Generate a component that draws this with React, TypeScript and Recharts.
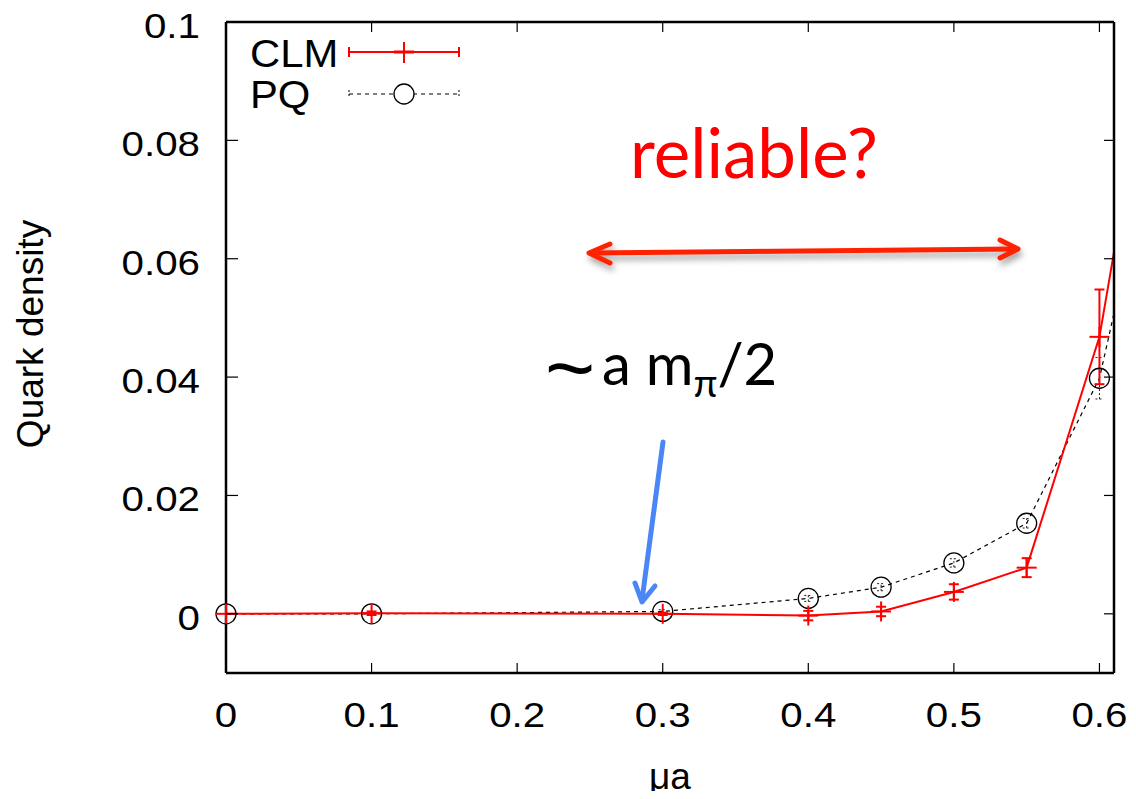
import React from 'react';
import { ComposedChart, Line, XAxis, YAxis, ErrorBar, Legend } from 'recharts';

// ---- data ----
const muA = [0, 0.1, 0.3, 0.4, 0.45, 0.5, 0.55, 0.6];
const clmDensity = [0, 0.0001, 0, -0.0003, 0.0004, 0.0037, 0.0078, 0.0468];
const clmError = [0, 0.0003, 0.0002, 0.0008, 0.0008, 0.0013, 0.0016, 0.008];
const pqDensity = [0, 0, 0.0004, 0.0026, 0.0045, 0.0086, 0.0153, 0.0398];
const pqError = [0, 0, 0.0003, 0.0005, 0.0006, 0.0007, 0.0008, 0.0035];
// the next point lies beyond the right edge of the frame (lines run off the plot)
const muANext = 0.63;
const clmNext = 0.0897;
const pqNext = 0.0728;

const xTicks = [0, 0.1, 0.2, 0.3, 0.4, 0.5, 0.6];
const xTickLabels = ['0', '0.1', '0.2', '0.3', '0.4', '0.5', '0.6'];
const yTicks = [0, 0.02, 0.04, 0.06, 0.08, 0.1];
const yTickLabels = ['0', '0.02', '0.04', '0.06', '0.08', '0.1'];
const xDomain = [0, 0.61];
const yDomain = [-0.01, 0.1];

const seriesNames = ['CLM', 'PQ'];

const pathData = [
  ...muA.map((x, i) => ({ x, clm: clmDensity[i], pq: pqDensity[i] })),
  { x: muANext, clm: clmNext, pq: pqNext },
];
const markData = muA.map((x, i) => ({
  x,
  clm: clmDensity[i],
  clmErr: clmError[i],
  pq: pqDensity[i],
  pqErr: pqError[i],
}));

const SANS = '"Liberation Sans", Arial, Helvetica, sans-serif';
const CAL = 'Lato, "Open Sans", sans-serif';
const RED = '#ff0000';
const STRETCH = 1.12;

const W = 1120;
const H = 791;

const BottomTick = (p: any) => (
  <g>
    <line x1={p.x} x2={p.x} y1={p.y} y2={p.y - 10} stroke="#000" strokeWidth={1.2} />
    <text
      transform={`translate(${p.x},${p.y + 54}) scale(${STRETCH},1)`}
      textAnchor="middle"
      fontSize={36}
      fontFamily={SANS}
      fill="#000"
    >
      {xTickLabels[p.index]}
    </text>
  </g>
);
const TopTick = (p: any) => (
  <line x1={p.x} x2={p.x} y1={p.y} y2={p.y + 10} stroke="#000" strokeWidth={1.2} />
);
const LeftTick = (p: any) => (
  <g>
    <line x1={p.x} x2={p.x + 12} y1={p.y} y2={p.y} stroke="#000" strokeWidth={1.2} />
    <text
      transform={`translate(${p.x - 26},${p.y + 16}) scale(${STRETCH},1)`}
      textAnchor="end"
      fontSize={36}
      fontFamily={SANS}
      fill="#000"
    >
      {yTickLabels[p.index]}
    </text>
  </g>
);
const RightTick = (p: any) => (
  <line x1={p.x} x2={p.x - 10} y1={p.y} y2={p.y} stroke="#000" strokeWidth={1.2} />
);

const PlusDot = (p: any) => (
  <g key={`plus-${p.index}`}>
    <line x1={p.cx - 10} x2={p.cx + 10} y1={p.cy} y2={p.cy} stroke={RED} strokeWidth={2} />
    <line x1={p.cx} x2={p.cx} y1={p.cy - 10} y2={p.cy + 10} stroke={RED} strokeWidth={2} />
  </g>
);
const CircleDot = (p: any) => (
  <circle key={`circ-${p.index}`} cx={p.cx} cy={p.cy} r={10} fill="none" stroke="#000" strokeWidth={1.3} />
);

const LegendBox = () => (
  <svg width={470} height={128} style={{ display: 'block' }}>
    <text transform="translate(242,67) scale(1.1,1)" fontSize={38} fontFamily={SANS} fill="#000">{seriesNames[0]}</text>
    <line x1={341} x2={451} y1={52} y2={52} stroke={RED} strokeWidth={2} />
    <line x1={341} x2={341} y1={47} y2={57} stroke={RED} strokeWidth={2} />
    <line x1={451} x2={451} y1={47} y2={57} stroke={RED} strokeWidth={2} />
    <line x1={396} x2={396} y1={42} y2={63} stroke={RED} strokeWidth={2} />
    <line x1={386} x2={406} y1={52} y2={52} stroke={RED} strokeWidth={3} />
    <text transform="translate(242,108) scale(1.1,1)" fontSize={38} fontFamily={SANS} fill="#000">{seriesNames[1]}</text>
    <line x1={341} x2={451} y1={94} y2={94} stroke="#000" strokeWidth={1} strokeDasharray="4 4" />
    <line x1={341} x2={341} y1={90} y2={98} stroke="#000" strokeWidth={1} strokeDasharray="2 2" />
    <line x1={451} x2={451} y1={90} y2={98} stroke="#000" strokeWidth={1} strokeDasharray="2 2" />
    <circle cx={396} cy={94} r={10} fill="#fff" stroke="#000" strokeWidth={1.3} />
  </svg>
);

const Overlay = () => (
  <svg
    width={W}
    height={H + 8}
    style={{ position: 'absolute', left: 0, top: 0, pointerEvents: 'none' }}
  >
    <defs>
      <filter id="shadow" x="-10%" y="-100%" width="120%" height="400%">
        <feDropShadow dx="2" dy="5" stdDeviation="3" floodColor="#000" floodOpacity="0.35" />
      </filter>
    </defs>
    {/* axis titles */}
    <text
      transform="translate(35,334) rotate(-90)"
      textAnchor="middle"
      fontSize={37}
      fontFamily={SANS}
      fill="#000"
    >
      Quark density
    </text>
    <text x={662} y={789} textAnchor="middle" fontSize={37} fontFamily={SANS} fill="#000">
      μa
    </text>
    {/* annotations */}
    <text x={622} y={178} fontSize={69} fontFamily={CAL} fill={RED}>
      reliable?
    </text>
    <g filter="url(#shadow)" stroke="#ff2200" strokeWidth={5} strokeLinecap="round" strokeLinejoin="round" fill="none">
      <line x1={583} y1={253} x2={1008} y2={249} />
      <polyline points="602,244 581,253 602,263" />
      <polyline points="992,240 1010,249 992,258" />
    </g>
    <text x={537} y={397} fontSize={86} fontFamily={SANS} fill="#000">~</text>
    <text x={594} y={385} fontSize={58} fontFamily={CAL} fill="#000">
      <tspan>a m</tspan>
      <tspan fontSize={39} dy={12}>π</tspan>
      <tspan dy={-12}>/2</tspan>
    </text>
    <g stroke="#4a86f5" strokeWidth={5} strokeLinecap="round" strokeLinejoin="round" fill="none">
      <line x1={655} y1={442} x2={634} y2={600} />
      <polyline points="627,583 634,602 647,586" />
    </g>
  </svg>
);

export default function App() {
  return (
    <div style={{ position: 'relative', width: W, height: H, marginTop: -8 }}>
      <ComposedChart width={W} height={H} margin={{ top: 21, right: 13, bottom: 0, left: 0 }}>
        <XAxis
          xAxisId="main"
          type="number"
          dataKey="x"
          domain={xDomain}
          allowDataOverflow
          ticks={xTicks}
          height={118}
          tickSize={0}
          tickMargin={0}
          tickLine={false}
          tick={BottomTick}
          axisLine={{ stroke: '#000', strokeWidth: 2.5 }}
          interval={0}
        />
        <XAxis
          xAxisId="top"
          orientation="top"
          type="number"
          dataKey="x"
          domain={xDomain}
          ticks={xTicks}
          height={1}
          tickSize={0}
          tickMargin={0}
          tickLine={false}
          tick={TopTick}
          axisLine={{ stroke: '#000', strokeWidth: 2.5 }}
          interval={0}
        />
        <YAxis
          yAxisId="main"
          type="number"
          domain={yDomain}
          allowDataOverflow
          ticks={yTicks}
          width={218}
          tickSize={0}
          tickMargin={0}
          tickLine={false}
          tick={LeftTick}
          axisLine={{ stroke: '#000', strokeWidth: 2.5 }}
          interval={0}
        />
        <YAxis
          yAxisId="right"
          orientation="right"
          type="number"
          domain={yDomain}
          ticks={yTicks}
          width={1}
          tickSize={0}
          tickMargin={0}
          tickLine={false}
          tick={RightTick}
          axisLine={{ stroke: '#000', strokeWidth: 2.5 }}
          interval={0}
        />
        <Legend
          layout="vertical"
          align="center"
          verticalAlign="middle"
          wrapperStyle={{ left: 0, top: 0, width: 470, height: 128 }}
          content={() => <LegendBox />}
        />
        {/* PQ path (runs off the frame) */}
        <Line
          xAxisId="main"
          yAxisId="main"
          data={pathData}
          dataKey="pq"
          name="PQ"
          stroke="#000"
          strokeWidth={1.2}
          strokeDasharray="4 4"
          dot={false}
          activeDot={false}
          legendType="none"
          isAnimationActive={false}
        />
        {/* PQ markers with error bars */}
        <Line
          xAxisId="top"
          yAxisId="right"
          data={markData}
          dataKey="pq"
          stroke="none"
          dot={CircleDot}
          activeDot={false}
          legendType="none"
          isAnimationActive={false}
        >
          <ErrorBar dataKey="pqErr" width={4} stroke="#222" strokeWidth={1} strokeDasharray="2 2" direction="y" isAnimationActive={false} />
        </Line>
        {/* CLM path (runs off the frame) */}
        <Line
          xAxisId="main"
          yAxisId="main"
          data={pathData}
          dataKey="clm"
          name="CLM"
          stroke={RED}
          strokeWidth={2}
          dot={false}
          activeDot={false}
          legendType="none"
          isAnimationActive={false}
        />
        {/* CLM markers with error bars */}
        <Line
          xAxisId="top"
          yAxisId="right"
          data={markData}
          dataKey="clm"
          stroke="none"
          dot={PlusDot}
          activeDot={false}
          legendType="none"
          isAnimationActive={false}
        >
          <ErrorBar dataKey="clmErr" width={5} stroke={RED} strokeWidth={2} direction="y" isAnimationActive={false} />
        </Line>
      </ComposedChart>
      <Overlay />
    </div>
  );
}
